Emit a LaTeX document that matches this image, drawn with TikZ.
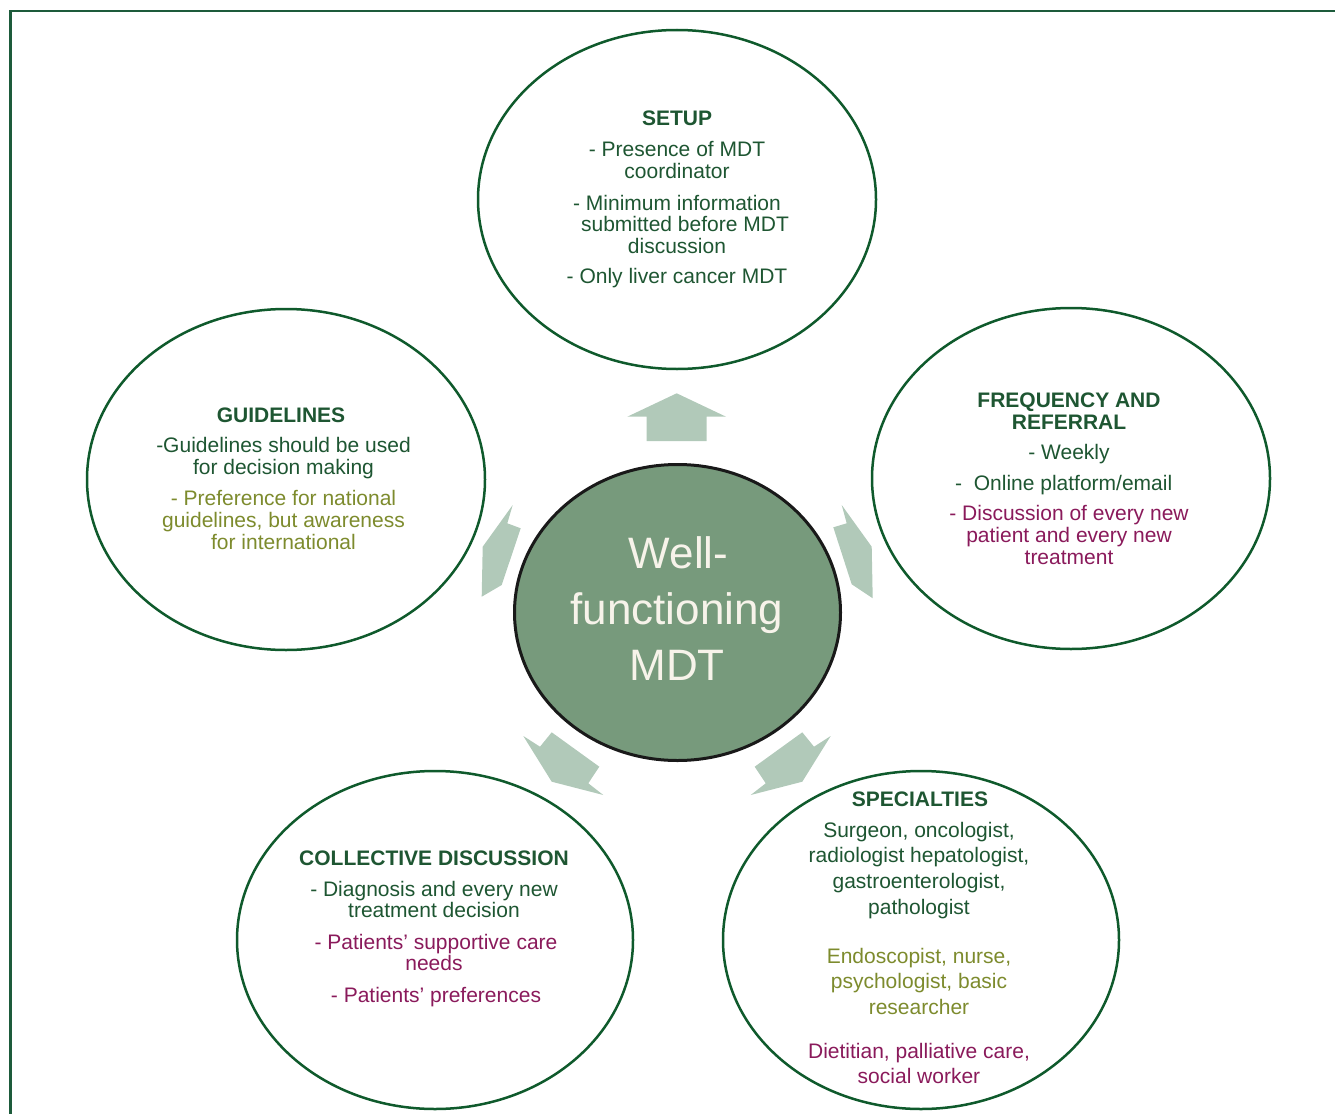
\documentclass[tikz,border=0pt]{standalone}
\usepackage{fontspec}
\setmainfont{Liberation Sans}
\usetikzlibrary{shapes.geometric}
\definecolor{framegreen}{HTML}{1D5B3B}
\definecolor{ellgreen}{HTML}{0F5A2C}
\definecolor{dg}{HTML}{1E5632}
\definecolor{ol}{HTML}{7D8B2D}
\definecolor{mg}{HTML}{8A1A5B}
\definecolor{cfill}{HTML}{779A7C}
\definecolor{arrowfill}{HTML}{B1C9B9}
\definecolor{ctext}{HTML}{F7F3EA}
\tikzset{
  ell/.style={ellipse, draw=ellgreen, line width=2.5pt, inner sep=0pt, fill=white},
  txt/.style={font=\fontsize{21}{22}\selectfont, anchor=base, inner sep=0pt, text=dg},
  ttl/.style={font=\bfseries\fontsize{21}{22}\selectfont, anchor=base, inner sep=0pt, text=dg},
  oltxt/.style={txt, text=ol},
  mgtxt/.style={txt, text=mg},
  blockarrow/.style={fill=arrowfill, draw=none},
  ctr/.style={font=\fontsize{44}{56}\selectfont, anchor=base, inner sep=0pt, text=ctext}
}
\begin{document}
\begin{tikzpicture}[x=1pt,y=-1pt]
\useasboundingbox (0,0) rectangle (1335,1113);
% frame
\draw[framegreen, line width=2.5pt] (10.5,1115) -- (10.5,11) -- (1340,11);

% ellipses
\node[ell, minimum width=398, minimum height=339] (setup) at (677,199.5) {};
\node[ell, minimum width=398, minimum height=341] (guide) at (286,479.5) {};
\node[ell, minimum width=398, minimum height=341] (freq) at (1071,478.5) {};
\node[ell, minimum width=396, minimum height=338] (coll) at (435,940) {};
\node[ell, minimum width=396, minimum height=338] (spec) at (921,940) {};
\node[ellipse, draw=black!90, line width=3pt, fill=cfill, inner sep=0pt,
      minimum width=326, minimum height=296] (mdt) at (677.5,612.5) {};

% block arrows
\fill[blockarrow] (676.7,393.3) -- (726,416.7) -- (706.7,416.7) -- (706.7,441)
  -- (646.7,441) -- (646.7,416.7) -- (627.3,416.7) -- cycle;
\fill[blockarrow] (512.7,505) -- (507.3,523.3) -- (520.7,528.3) -- (501.7,585)
  -- (481.7,596.7) -- (482.7,546.7) -- cycle;
\fill[blockarrow] (841.7,505) -- (846.7,523.3) -- (833.3,527.3) -- (851.7,584.3)
  -- (872.7,598.3) -- (871.7,546.7) -- cycle;
\fill[blockarrow] (523.3,736) -- (540,746.7) -- (551.7,732.3) -- (599.3,766.7)
  -- (588.3,783.3) -- (603.3,795) -- (551.7,781.7) -- cycle;
\fill[blockarrow] (830.7,736) -- (814,746.7) -- (802.3,732.3) -- (754.7,766.7)
  -- (765.7,783.3) -- (750.7,795) -- (802.3,781.7) -- cycle;

% centre text
\node[ctr] (c1) at (678.5,568.3) {Well-};
\node[ctr] (c2) at (677,624) {functioning};
\node[ctr] (c3) at (677,680.7) {MDT};

% SETUP
\node[ttl] (s0) at (677,126) {SETUP};
\node[txt] (s1) at (677,156.7) {- Presence of MDT};
\node[txt] (s2) at (677,178) {coordinator};
\node[txt] (s3) at (677,210) {- Minimum information};
\node[txt] (s4) at (685,231.7) {submitted before MDT};
\node[txt] (s5) at (677,253.3) {discussion};
\node[txt] (s6) at (677,283.3) {- Only liver cancer MDT};

% GUIDELINES
\node[ttl] (g0) at (281,422.7) {GUIDELINES};
\node[txt] (g1) at (283.5,452.7) {-Guidelines should be used};
\node[txt] (g2) at (283.5,474) {for decision making};
\node[oltxt] (g3) at (283.5,505) {- Preference for national};
\node[oltxt] (g4) at (283.5,527.3) {guidelines, but awareness};
\node[oltxt] (g5) at (283.5,549.3) {for international};

% FREQUENCY AND REFERRAL
\node[ttl] (f0) at (1069,407.3) {FREQUENCY AND};
\node[ttl] (f1) at (1069,429.3) {REFERRAL};
\node[txt] (f2) at (1069,459.3) {- Weekly};
\node[txt] (f3) at (1063.7,490.7) {-\ \ Online platform/email};
\node[mgtxt] (f4) at (1069,520.7) {- Discussion of every new};
\node[mgtxt] (f5) at (1069,542.7) {patient and every new};
\node[mgtxt] (f6) at (1069,564) {treatment};

% COLLECTIVE DISCUSSION
\node[ttl] (k0) at (434,865) {COLLECTIVE DISCUSSION};
\node[txt] (k1) at (434,896) {- Diagnosis and every new};
\node[txt] (k2) at (434,917.7) {treatment decision};
\node[mgtxt] (k3) at (436,949) {- Patients’ supportive care};
\node[mgtxt] (k4) at (434,970.7) {needs};
\node[mgtxt] (k5) at (436,1002) {- Patients’ preferences};

% SPECIALTIES
\node[ttl] (p0) at (920,806) {SPECIALTIES};
\node[txt] (p1) at (919,837) {Surgeon, oncologist,};
\node[txt] (p2) at (919,862.7) {radiologist hepatologist,};
\node[txt] (p3) at (919,888.3) {gastroenterologist,};
\node[txt] (p4) at (919,914) {pathologist};
\node[oltxt] (p5) at (919,963) {Endoscopist, nurse,};
\node[oltxt] (p6) at (919,988.7) {psychologist, basic};
\node[oltxt] (p7) at (919,1014.3) {researcher};
\node[mgtxt] (p8) at (919,1058) {Dietitian, palliative care,};
\node[mgtxt] (p9) at (919,1083.7) {social worker};
\end{tikzpicture}
\end{document}
